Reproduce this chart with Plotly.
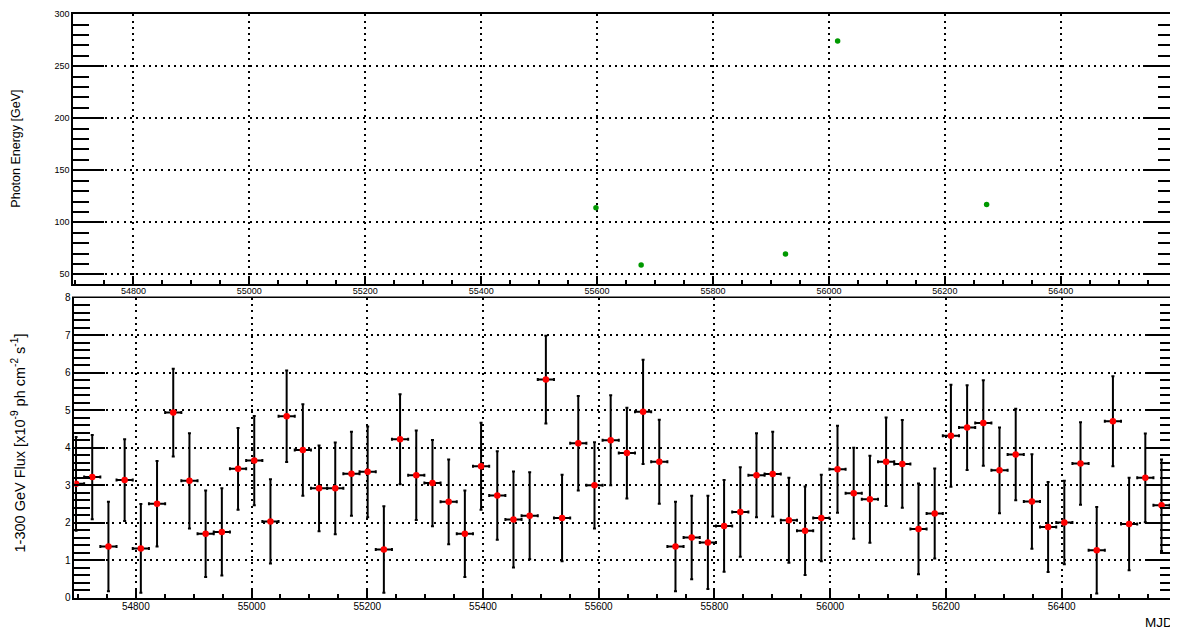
import plotly.graph_objects as go

# page placement compensation (measured from earlier renders)
OFFX = 8          # body margin on the left
SY = 0.9813       # vertical scale of the photographed page
TOPY = 13         # vertical offset of the figure in the page
W = 1178 - OFFX
H = 630

# ---------------- data ----------------
# 28-day bins, centres
bin_start = 54696.65
bin_step = 28.0
bin_halfwidth = 14.0

flux = [3.04, 3.22, 1.37, 3.14, 1.32, 2.51, 4.94, 3.12, 1.71, 1.76,
        3.44, 3.66, 2.04, 4.84, 3.94, 2.92, 2.92, 3.31, 3.36, 1.29,
        4.23, 3.27, 3.06, 2.56, 1.71, 3.51, 2.73, 2.09, 2.19, 5.82,
        2.13, 4.12, 3.00, 4.20, 3.86, 4.96, 3.63, 1.37, 1.61, 1.48,
        1.92, 2.29, 3.27, 3.30, 2.07, 1.79, 2.13, 3.43, 2.79, 2.63,
        3.63, 3.57, 1.84, 2.25, 4.32, 4.54, 4.66, 3.40, 3.82, 2.57,
        1.89, 2.01, 3.58, 1.27, 4.71, 1.97, 3.20, 2.47]
flux_err = [1.25, 1.12, 1.19, 1.09, 1.18, 1.14, 1.17, 1.27, 1.15, 1.16,
            1.09, 1.19, 1.12, 1.22, 1.22, 1.14, 1.22, 1.12, 1.21, 1.15,
            1.20, 1.19, 1.15, 1.13, 1.15, 1.16, 1.18, 1.28, 1.16, 1.17,
            1.15, 1.26, 1.15, 1.20, 1.21, 1.39, 1.12, 1.19, 1.11, 1.24,
            1.22, 1.19, 1.12, 1.13, 1.13, 1.18, 1.15, 1.16, 1.21, 1.16,
            1.18, 1.17, 1.21, 1.20, 1.36, 1.13, 1.14, 1.14, 1.22, 1.26,
            1.20, 1.11, 1.10, 1.15, 1.20, 1.23, 1.18, 1.22]
mjd = [bin_start + bin_step * i for i in range(len(flux))]

photon_mjd = [55598, 55676, 55925, 56015, 56272]
photon_energy = [113.9, 58.9, 69.5, 274.3, 117.1]

x_ticks = [54800, 55000, 55200, 55400, 55600, 55800, 56000, 56200, 56400]
top_y_ticks = [50, 100, 150, 200, 250, 300]
bot_y_ticks = [0, 1, 2, 3, 4, 5, 6, 7, 8]

# ---------------- figure ----------------
FONT = "Liberation Sans, Arial, Helvetica, sans-serif"
fig = go.Figure()

fig.add_trace(go.Scatter(
    x=photon_mjd, y=photon_energy, mode="markers",
    marker=dict(color="#009900", size=5.5),
    xaxis="x", yaxis="y", showlegend=False))

fig.add_trace(go.Scatter(
    x=mjd, y=flux, mode="markers",
    marker=dict(color="#ff0000", size=6.5),
    error_y=dict(type="data", array=flux_err, color="black", thickness=2, width=1.5),
    error_x=dict(type="constant", value=bin_halfwidth, color="black", thickness=2, width=1.5),
    xaxis="x2", yaxis="y2", showlegend=False))


def px2x(p):
    return (p - OFFX) / W


def px2y(p):
    return 1 - (p / SY - TOPY) / H


grid = dict(showgrid=True, gridcolor="black", gridwidth=1.6, griddash="2px,4.3px")
common_ax = dict(showline=True, linecolor="black", linewidth=2, ticks="inside",
                 tickcolor="black", zeroline=False, **grid)

fig.update_layout(
    width=W, height=H, autosize=False,
    margin=dict(l=0, r=0, t=0, b=0),
    paper_bgcolor="white", plot_bgcolor="white",
    font=dict(family=FONT, color="black"),
    xaxis=dict(domain=[px2x(73.3), px2x(1175)], anchor="y",
               range=[54696.2, 56595.3], tickvals=x_ticks,
               ticktext=[str(v) for v in x_ticks],
               ticklen=8, tickwidth=1.5, mirror=True, ticklabelstandoff=-3,
               minor=dict(dtick=50, tick0=54800, ticklen=4, tickwidth=1.5, ticks="inside",
                          tickcolor="black", showgrid=False),
               tickfont=dict(size=9, family=FONT), **common_ax),
    yaxis=dict(domain=[px2y(283.3), px2y(14)], anchor="x",
               range=[40.4, 300], tickvals=top_y_ticks,
               ticklen=31, tickwidth=1.5, mirror="ticks",
               minor=dict(dtick=10, tick0=0, ticklen=16, tickwidth=1.5, ticks="inside",
                          tickcolor="black", showgrid=False),
               tickfont=dict(size=9, family=FONT), **common_ax),
    xaxis2=dict(domain=[px2x(74.5), px2x(1176.5)], anchor="y2",
                range=[54693.9, 56596.8], tickvals=x_ticks,
                ticktext=[str(v) for v in x_ticks],
                ticklen=8, tickwidth=1.5, mirror=True, ticklabelstandoff=-2,
                minor=dict(dtick=50, tick0=54800, ticklen=4, tickwidth=1.5, ticks="inside",
                           tickcolor="black", showgrid=False),
                tickfont=dict(size=10, family=FONT), **common_ax),
    yaxis2=dict(domain=[px2y(596), px2y(296.7)], anchor="x2",
                range=[0, 8], tickvals=bot_y_ticks,
                ticklen=31, tickwidth=1.5, mirror="ticks",
                minor=dict(dtick=0.2, tick0=0, ticklen=16, tickwidth=1.5, ticks="inside",
                           tickcolor="black", showgrid=False),
                tickfont=dict(size=10, family=FONT), **common_ax),
    annotations=[
        dict(text="Photon Energy [GeV]", xref="paper", yref="paper",
             x=px2x(16), y=px2y(148), xanchor="center", yanchor="middle",
             textangle=-90, showarrow=False, font=dict(size=12.5, family=FONT)),
        dict(text="1-300 GeV Flux [x10<sup>-9</sup> ph cm<sup>-2</sup> s<sup>-1</sup>]",
             xref="paper", yref="paper",
             x=px2x(19), y=px2y(441), xanchor="center", yanchor="middle",
             textangle=-90, showarrow=False, font=dict(size=14.5, family=FONT)),
        dict(text="MJD", xref="paper", yref="paper",
             x=px2x(1160), y=px2y(621), xanchor="center", yanchor="middle",
             showarrow=False, font=dict(size=13.5, family=FONT)),
    ],
    shapes=[
        dict(type="rect", xref="paper", yref="paper", layer="above",
             x0=px2x(72), x1=1, y0=px2y(295.5), y1=px2y(293.0),
             fillcolor="white", line=dict(width=0)),
    ],
)

fig.write_html("out.html")
